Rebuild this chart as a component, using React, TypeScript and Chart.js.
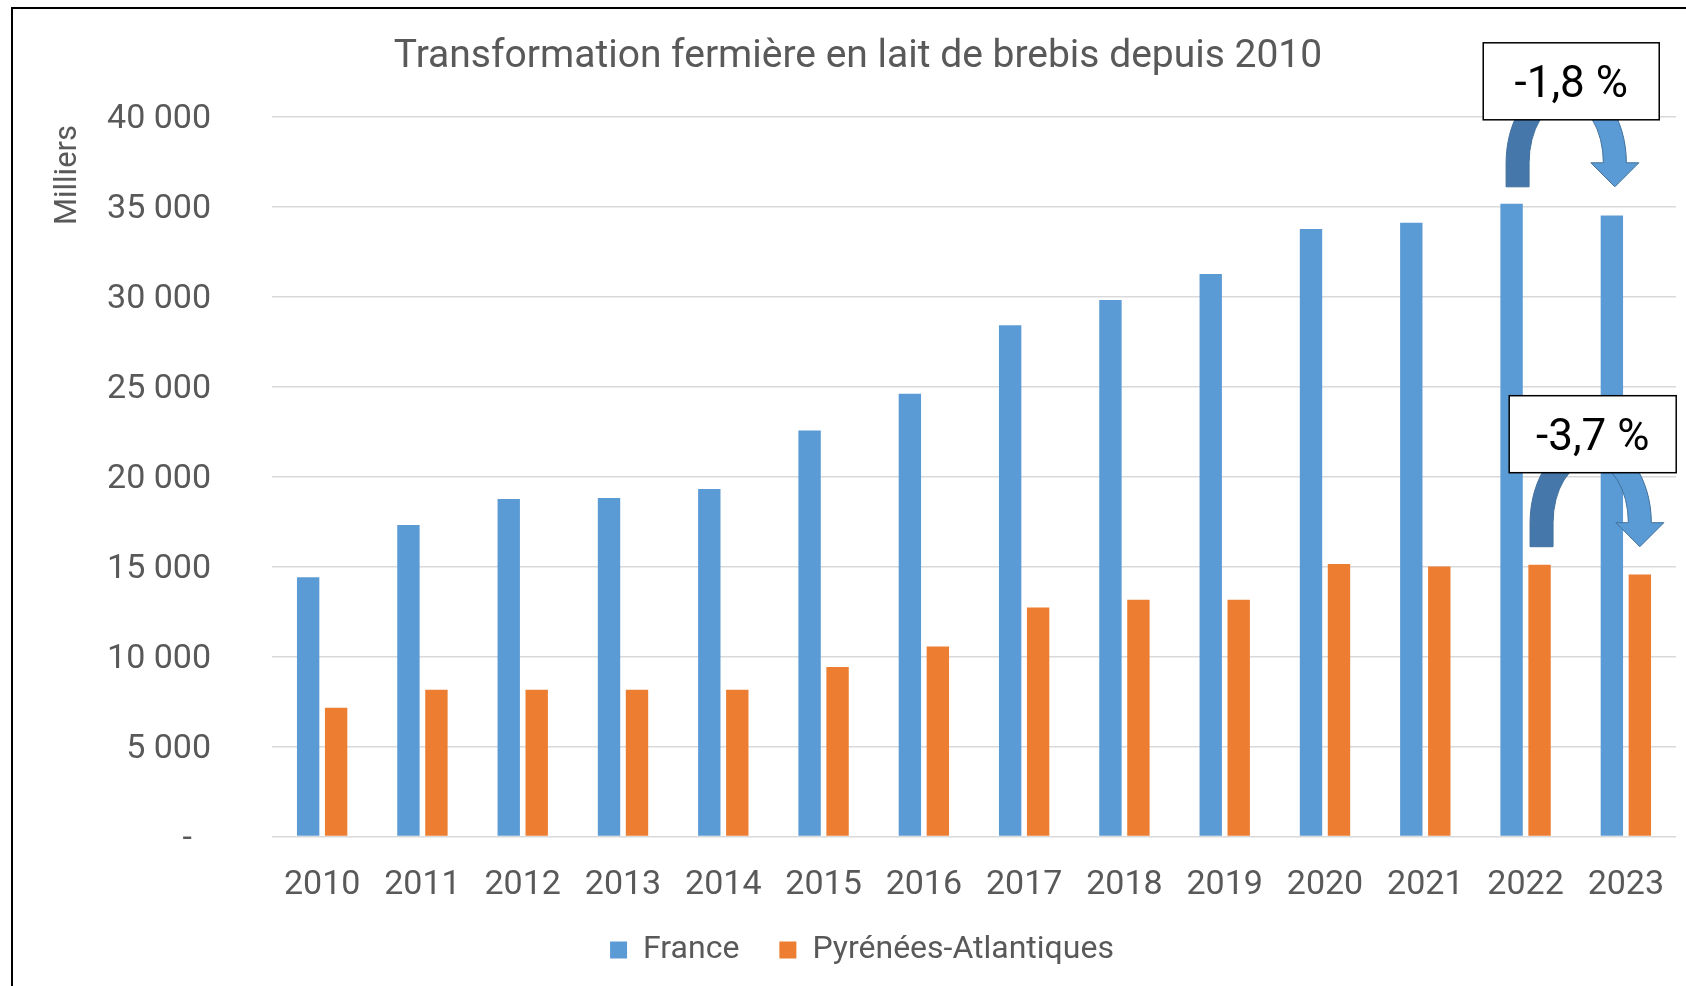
import React, { useEffect, useRef } from 'react';
import { Chart, registerables } from 'chart.js';

Chart.register(...registerables);

const YEARS = ['2010', '2011', '2012', '2013', '2014', '2015', '2016', '2017', '2018', '2019', '2020', '2021', '2022', '2023'];
const FRANCE = [14400, 17300, 18750, 18800, 19300, 22550, 24600, 28400, 29800, 31250, 33750, 34100, 35150, 34500];
const PYRENEES = [7150, 8150, 8150, 8150, 8150, 9420, 10550, 12720, 13150, 13150, 15140, 15000, 15100, 14550];
const SERIES_NAMES = ['France', 'Pyrénées-Atlantiques'];
const Y_TICK_LABELS = ['-', '5 000', '10 000', '15 000', '20 000', '25 000', '30 000', '35 000', '40 000'];
const TITLE = 'Transformation fermière en lait de brebis depuis 2010';
const Y_TITLE = 'Milliers';
const CHANGE_LABELS = ['-1,8 %', '-3,7 %'];
const CHANGE_SERIES = [0, 1];
const CHANGE_FROM = 12;
const CHANGE_TO = 13;

const FONT = 'Roboto, "Noto Sans", sans-serif';
const GREY = '#595959';
const BLUE = '#5B9BD5';
const ORANGE = '#ED7D31';

// style per annotation: offsets of arrow ends relative to bar centres, box geometry
const ANN_STYLE = [
  { dxL: 6, dxR: 3, lift: 17, boxDx: 5, boxW: 176, boxH: 77, boxUp: 144 },
  { dxL: 2, dxR: 0, lift: 18, boxDx: 2, boxW: 167, boxH: 77, boxUp: 151 },
];

function drawCurvedArrow(ctx: CanvasRenderingContext2D, xL: number, xR: number, yB: number) {
  const t = 23;
  const headW = 48;
  const headH = 24;
  const cx = (xL + xR) / 2;
  const rx = (xR - xL) / 2;
  const yc = yB - headH;
  const ry = 72;
  ctx.save();
  // back (left) half, darker
  ctx.beginPath();
  ctx.moveTo(xL - t / 2, yB);
  ctx.lineTo(xL - t / 2, yc);
  ctx.ellipse(cx, yc, rx + t / 2, ry + t / 2, 0, Math.PI, Math.PI * 1.5, false);
  ctx.lineTo(cx, yc - (ry - t / 2));
  ctx.ellipse(cx, yc, rx - t / 2, ry - t / 2, 0, Math.PI * 1.5, Math.PI, true);
  ctx.lineTo(xL + t / 2, yB);
  ctx.closePath();
  ctx.fillStyle = '#4677AA';
  ctx.fill();
  ctx.strokeStyle = '#41719C';
  ctx.lineWidth = 1;
  ctx.stroke();
  // front (right) half + head, lighter
  ctx.beginPath();
  ctx.ellipse(cx, yc, rx + t / 2, ry + t / 2, 0, Math.PI * 1.5, Math.PI * 2, false);
  ctx.lineTo(xR + headW / 2, yc);
  ctx.lineTo(xR, yB);
  ctx.lineTo(xR - headW / 2, yc);
  ctx.lineTo(cx + rx - t / 2, yc);
  ctx.ellipse(cx, yc, rx - t / 2, ry - t / 2, 0, Math.PI * 2, Math.PI * 1.5, true);
  ctx.closePath();
  ctx.fillStyle = BLUE;
  ctx.fill();
  ctx.strokeStyle = '#41719C';
  ctx.lineWidth = 1;
  ctx.stroke();
  ctx.restore();
}

const decorPlugin = {
  id: 'decor',
  afterDraw(chart: any) {
    const ctx: CanvasRenderingContext2D = chart.ctx;
    ctx.save();
    // frame
    ctx.strokeStyle = '#000';
    ctx.lineWidth = 2;
    ctx.strokeRect(12, 8, 3000, 3000);
    // title
    ctx.fillStyle = GREY;
    ctx.font = `39px ${FONT}`;
    ctx.textAlign = 'center';
    ctx.textBaseline = 'middle';
    ctx.fillText(TITLE, 858, 57);
    // y title
    ctx.save();
    ctx.translate(68, 175);
    ctx.rotate(-Math.PI / 2);
    ctx.font = `31px ${FONT}`;
    ctx.fillText(Y_TITLE, 0, 0);
    ctx.restore();
    // annotations
    CHANGE_LABELS.forEach((label, k) => {
      const st = ANN_STYLE[k];
      const meta = chart.getDatasetMeta(CHANGE_SERIES[k]);
      const a = meta.data[CHANGE_FROM];
      const b = meta.data[CHANGE_TO];
      const xL = a.x + st.dxL;
      const xR = b.x + st.dxR;
      const yB = a.y - st.lift;
      drawCurvedArrow(ctx, xL, xR, yB);
      const bcx = (xL + xR) / 2 + st.boxDx;
      const top = yB - st.boxUp;
      ctx.fillStyle = '#fff';
      ctx.fillRect(bcx - st.boxW / 2, top, st.boxW, st.boxH);
      ctx.strokeStyle = '#000';
      ctx.lineWidth = 1.5;
      ctx.strokeRect(bcx - st.boxW / 2, top, st.boxW, st.boxH);
      ctx.fillStyle = '#000';
      ctx.font = `44px ${FONT}`;
      ctx.textAlign = 'center';
      ctx.textBaseline = 'middle';
      ctx.fillText(label, bcx, top + st.boxH / 2 + 5);
    });
    ctx.restore();
  },
};

export default function App() {
  const ref = useRef<HTMLCanvasElement>(null);
  useEffect(() => {
    if (!ref.current) return;
    const chart = new Chart(ref.current, {
      type: 'bar',
      data: {
        labels: YEARS,
        datasets: [
          { label: SERIES_NAMES[0], data: FRANCE, backgroundColor: BLUE, categoryPercentage: 0.558, barPercentage: 0.8 },
          { label: SERIES_NAMES[1], data: PYRENEES, backgroundColor: ORANGE, categoryPercentage: 0.558, barPercentage: 0.8 },
        ],
      },
      options: {
        responsive: false,
        animation: false,
        layout: { padding: { left: 48, right: 10, top: 116.5, bottom: 10 } },
        plugins: {
          title: { display: false },
          tooltip: { enabled: false },
          legend: {
            position: 'bottom',
            labels: {
              color: GREY,
              font: { family: FONT, size: 32 },
              boxWidth: 17,
              boxHeight: 17,
              padding: 40,
            },
          },
        },
        scales: {
          x: {
            grid: { display: false, drawTicks: false },
            border: { display: false },
            ticks: { color: GREY, font: { family: FONT, size: 34 }, padding: 28.5, maxRotation: 0 },
            afterFit: (s: any) => { s.height = 57.5; s.paddingLeft = 0; s.paddingRight = 0; },
          },
          y: {
            min: 0,
            max: 40000,
            grid: { color: '#D9D9D9', lineWidth: 1.5, drawTicks: false },
            border: { display: false },
            ticks: {
              stepSize: 5000,
              color: GREY,
              font: { family: FONT, size: 34 },
              padding: 61,
              labelOffset: 3,
              callback: (v: any) => {
                const i = Math.round(Number(v) / 5000);
                const s = Y_TICK_LABELS[i] ?? '';
                return i === 0 ? s + '\u2007' : s;
              },
            },
            afterFit: (s: any) => { s.width = 224; },
          },
        },
      },
      plugins: [decorPlugin],
    });
    return () => chart.destroy();
  }, []);
  return (
    <div style={{ position: 'absolute', left: 0, top: 0, width: 1686, height: 986, background: '#fff' }}>
      <canvas ref={ref} width={1686} height={986} style={{ display: 'block' }} />
    </div>
  );
}
